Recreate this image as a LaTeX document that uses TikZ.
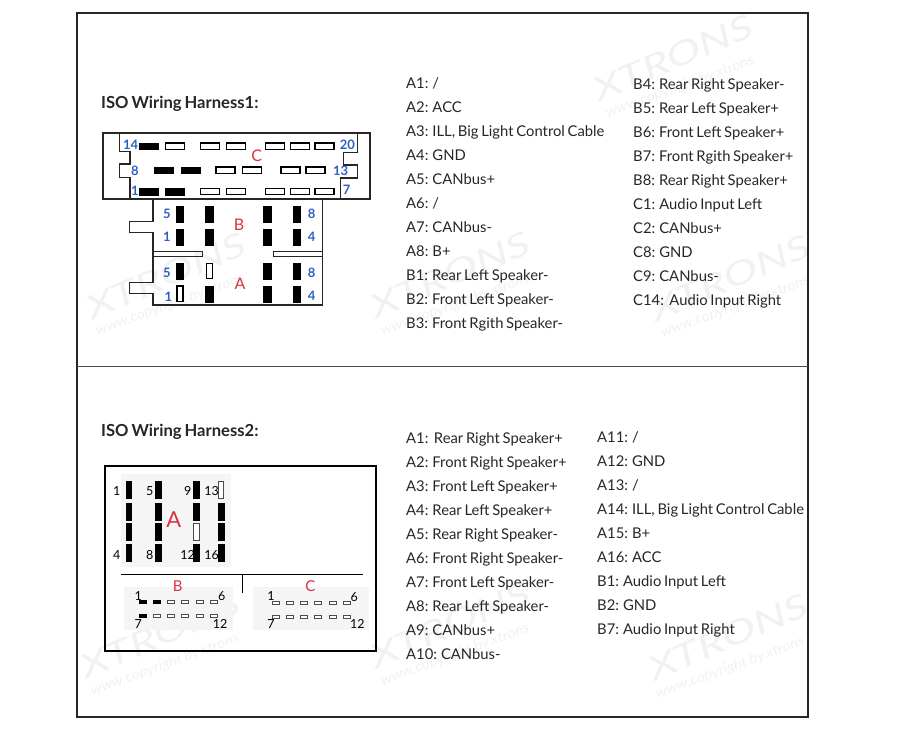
\documentclass[tikz,border=0pt]{standalone}
\usepackage{fontspec}
\setmainfont{Lato}[WordSpace=0.72]
\definecolor{pinblue}{HTML}{2F5FC4}
\definecolor{capred}{HTML}{D8313F}
\definecolor{bggrey}{HTML}{F5F5F5}
\definecolor{markgrey}{HTML}{F1F1F1}
\tikzset{
  pinfull/.style={draw=black,fill=black,line width=0.6pt},
  pinopen/.style={draw=black,fill=white,line width=1.1pt},
  pinthin/.style={draw=black!70,fill=white,line width=0.7pt},
  shell/.style={draw=black!85,line width=1.1pt},
  numblue/.style={text=pinblue,font=\fontsize{13}{13}\selectfont\bfseries,inner sep=0pt},
  numblack/.style={text=black,font=\fontsize{12.5}{13}\selectfont,inner sep=0pt},
  caplabel/.style={text=capred,font=\fontsize{16}{16}\selectfont,inner sep=0pt},
  heading/.style={anchor=west,inner sep=0pt,text=black!85,font=\fontsize{16.6}{18}\selectfont\bfseries},
  pinlist/.style={anchor=north west,inner sep=0pt,align=left,text=black!85,font=\fontsize{14.8}{24}\selectfont},
  wmark/.style={text=markgrey,rotate=23,xscale=1.4,inner sep=0pt,font=\fontsize{33}{33}\selectfont\itshape},
  wcopy/.style={text=markgrey,rotate=20,xscale=1.1,inner sep=0pt,font=\fontsize{14}{14}\selectfont\itshape},
}
\begin{document}
\begin{tikzpicture}[x=1pt,y=-1pt]
\useasboundingbox (0,0) rectangle (900,750);

% watermarks
\node[wmark] (markA) at (673,58) {XTRONS};
\node[wcopy] (copyA) at (680,87) {www.copyright by xtrons};
\node[wmark] (markB) at (166,276) {XTRONS};
\node[wcopy] (copyB) at (170,305) {www.copyright by xtrons};
\node[wmark] (markC) at (450,275) {XTRONS};
\node[wcopy] (copyC) at (455,305) {www.copyright by xtrons};
\node[wmark] (markD) at (730,278) {XTRONS};
\node[wcopy] (copyD) at (735,307) {www.copyright by xtrons};
\node[wmark] (markE) at (160,635) {XTRONS};
\node[wcopy] (copyE) at (165,665) {www.copyright by xtrons};
\node[wmark] (markF) at (450,625) {XTRONS};
\node[wcopy] (copyF) at (455,655) {www.copyright by xtrons};
\node[wmark] (markG) at (728,637) {XTRONS};
\node[wcopy] (copyG) at (730,668) {www.copyright by xtrons};

% outer frame
\draw[black!85,line width=1.6pt] (77,13) rectangle (808,717);
\draw[black!70,line width=0.8pt] (77,366) -- (808,366);

\node[heading] (titleA) at (101,103.5) {ISO Wiring Harness1:};
\node[heading] (titleB) at (101,431.5) {ISO Wiring Harness2:};

% first connector, part C
\draw[shell] (103,133) rectangle (370,199);
\draw[shell] (119.3,133) -- (119.3,151.7) -- (130,151.7) -- (130,164) -- (119.3,164) -- (119.3,177.7) -- (130,177.7) -- (130,199);
\draw[shell] (357.3,133) -- (357.3,152.3) -- (343.3,152.3) -- (343.3,165) -- (357.3,165) -- (357.3,178) -- (340.7,178) -- (340.7,199);

\draw[pinfull] (139.3,143) rectangle +(19,6.5);
\draw[pinopen] (165.7,143) rectangle +(19,6.5) (200.7,143) rectangle +(19,6.5) (226.7,143) rectangle +(19,6.5)
  (265.7,143) rectangle +(19,6.5) (290.3,143) rectangle +(19,6.5) (315,143) rectangle +(19,6.5);
\draw[pinfull] (154.7,167) rectangle +(19,6.5) (181,167) rectangle +(19,6.5);
\draw[pinopen] (216,167) rectangle +(19,6.5) (242.3,167) rectangle +(19,6.5) (281,167) rectangle +(19,6.5) (306,167) rectangle +(19,6.5);
\draw[pinfull] (139.3,188.4) rectangle +(19,6.5) (165.7,188.4) rectangle +(19,6.5);
\draw[pinopen] (200.7,188.4) rectangle +(19,6.5) (226.7,188.4) rectangle +(19,6.5)
  (265.7,188.4) rectangle +(19,6.5) (290.3,188.4) rectangle +(19,6.5) (315,188.4) rectangle +(19,6.5);

% first connector, parts B and A
\draw[shell] (153,199) -- (153,221.7) -- (129.3,221.7) -- (129.3,232.3) -- (153,232.3) -- (153,282.3) -- (129.3,282.3) -- (129.3,293.7) -- (153,293.7)
  -- (153,305) -- (322.7,305) -- (322.7,199);
\draw[shell] (153,251.7) rectangle (202.3,256.7);
\draw[shell] (273.3,251.7) rectangle (322.7,256.7);

\draw[pinfull] (176,206.7) rectangle +(7.5,16) (205.7,206.7) rectangle +(7.5,16) (263.3,206.7) rectangle +(7.5,16) (293,206.7) rectangle +(7.5,16);
\draw[pinfull] (176,229.3) rectangle +(7.5,16) (205.7,229.3) rectangle +(7.5,16) (263.3,229.3) rectangle +(7.5,16) (293,229.3) rectangle +(7.5,16);
\draw[pinfull] (176,263.3) rectangle +(7.5,16) (263.3,263.3) rectangle +(7.5,16) (293,263.3) rectangle +(7.5,16);
\draw[pinopen] (206.7,263.3) rectangle +(6,15.5);
\draw[pinopen] (177,286) rectangle +(6,15.5);
\draw[pinfull] (205.7,286) rectangle +(7.5,16) (263.3,286) rectangle +(7.5,16) (293,286) rectangle +(7.5,16);

\node[caplabel] (capC) at (256.7,155.7) {C};
\node[caplabel] (capB) at (239,224.3) {B};
\node[caplabel] (capA) at (240,283.7) {A};

\node[numblue] (c14) at (130.7,145) {14};
\node[numblue] (c20) at (347.3,145) {20};
\node[numblue] (c8) at (135,170.7) {8};
\node[numblue] (c13) at (340.7,170.7) {13};
\node[numblue] (c1) at (135,190.7) {1};
\node[numblue] (c7) at (346.7,190) {7};
\node[numblue] (b5) at (167,214) {5};
\node[numblue] (b8) at (311.7,214) {8};
\node[numblue] (b1) at (167,236.7) {1};
\node[numblue] (b4) at (311.7,236.7) {4};
\node[numblue] (a5) at (167,272.7) {5};
\node[numblue] (a8) at (311.7,272.7) {8};
\node[numblue] (a1) at (168.3,296.7) {1};
\node[numblue] (a4) at (311.7,296) {4};

% second connector
\draw[black,line width=1.8pt] (105,465.7) rectangle (375.7,651);
\fill[bggrey] (121,474.3) rectangle (231,566.7);
\fill[bggrey] (124.3,587.3) rectangle (233.3,630);
\fill[bggrey] (253.3,587.3) rectangle (369,630);
\draw[black,line width=0.9pt] (121,574.3) -- (362.7,574.3);
\draw[black,line width=0.9pt] (242,574.3) -- (242,593);

\draw[pinfull] (126,481.7) rectangle +(5.5,16.6) (155.3,481.7) rectangle +(5.5,16.6) (193.5,481.7) rectangle +(5.5,16.6);
\draw[pinthin] (218.3,481.7) rectangle +(5.5,16.6);
\draw[pinfull] (126,503.3) rectangle +(5.5,16.6) (155.3,503.3) rectangle +(5.5,16.6) (193.5,503.3) rectangle +(5.5,16.6) (218.3,503.3) rectangle +(5.5,16.6);
\draw[pinfull] (126,523.7) rectangle +(5.5,16.6) (155.3,523.7) rectangle +(5.5,16.6) (218.3,523.7) rectangle +(5.5,16.6);
\draw[pinthin] (193.5,523.7) rectangle +(5.5,16.6);
\draw[pinfull] (126,544.3) rectangle +(5.5,16.6) (155.3,544.3) rectangle +(5.5,16.6) (193.5,544.3) rectangle +(5.5,16.6) (218.3,544.3) rectangle +(5.5,16.6);

\node[caplabel,font=\fontsize{22}{22}\selectfont] (capAA) at (173.7,519.3) {A};
\node[caplabel,font=\fontsize{15}{15}\selectfont] (capBB) at (177.7,585.7) {B};
\node[caplabel,font=\fontsize{15}{15}\selectfont] (capCC) at (310.3,585.7) {C};

\node[numblack] (p1) at (116.7,490.7) {1};
\node[numblack] (p5) at (149.7,490.7) {5};
\node[numblack] (p9) at (187.7,490.7) {9};
\node[numblack] (p13) at (211.7,490.7) {13};
\node[numblack] (p4) at (116.7,555) {4};
\node[numblack] (p8) at (149.7,555) {8};
\node[numblack] (p12) at (187.7,555) {12};
\node[numblack] (p16) at (211.7,555) {16};

\draw[pinfull] (139.4,600.7) rectangle +(7,3) (153.4,600.7) rectangle +(7,3);
\draw[pinthin] (167.4,600.7) rectangle +(7,3) (181.4,600.7) rectangle +(7,3) (196.1,600.7) rectangle +(7,3) (210.4,600.7) rectangle +(7,3);
\draw[pinfull] (139.4,614.7) rectangle +(7,3);
\draw[pinthin] (153.4,614.7) rectangle +(7,3) (167.4,614.7) rectangle +(7,3) (181.4,614.7) rectangle +(7,3) (196.1,614.7) rectangle +(7,3) (210.4,614.7) rectangle +(7,3);
\draw[pinthin] (272.4,601.7) rectangle +(7,3) (286.4,601.7) rectangle +(7,3) (300.4,601.7) rectangle +(7,3) (314.4,601.7) rectangle +(7,3) (329.1,601.7) rectangle +(7,3) (343.4,601.7) rectangle +(7,3);
\draw[pinthin] (272.4,615.7) rectangle +(7,3) (286.4,615.7) rectangle +(7,3) (300.4,615.7) rectangle +(7,3) (314.4,615.7) rectangle +(7,3) (329.1,615.7) rectangle +(7,3) (343.4,615.7) rectangle +(7,3);

\node[numblack] (q1) at (138.3,595.7) {1};
\node[numblack] (q6) at (221.7,596.3) {6};
\node[numblack] (q7) at (138.3,624) {7};
\node[numblack] (q12) at (220,624) {12};
\node[numblack] (r1) at (271,595.7) {1};
\node[numblack] (r6) at (354.3,597) {6};
\node[numblack] (r7) at (271,624) {7};
\node[numblack] (r12) at (357.3,624) {12};

% pin lists
\node[pinlist] (listA) at (406,77.5) {A1: /\\A2: ACC\\A3: ILL, Big Light Control Cable\\A4: GND\\A5: CANbus+\\A6: /\\A7: CANbus-\\A8: B+\\B1: Rear Left Speaker-\\B2: Front Left Speaker-\\B3: Front Rgith Speaker-};
\node[pinlist] (listB) at (633,78) {B4: Rear Right Speaker-\\B5: Rear Left Speaker+\\B6: Front Left Speaker+\\B7: Front Rgith Speaker+\\B8: Rear Right Speaker+\\C1: Audio Input Left\\C2: CANbus+\\C8: GND\\C9: CANbus-\\C14:~~Audio Input Right};
\node[pinlist] (listC) at (406,432) {A1:~~Rear Right Speaker+\\A2: Front Right Speaker+\\A3: Front Left Speaker+\\A4: Rear Left Speaker+\\A5: Rear Right Speaker-\\A6: Front Right Speaker-\\A7: Front Left Speaker-\\A8: Rear Left Speaker-\\A9: CANbus+\\A10: CANbus-};
\node[pinlist] (listD) at (597,431) {A11: /\\A12: GND\\A13: /\\A14: ILL, Big Light Control Cable\\A15: B+\\A16: ACC\\B1: Audio Input Left\\B2: GND\\B7: Audio Input Right};

\end{tikzpicture}
\end{document}
